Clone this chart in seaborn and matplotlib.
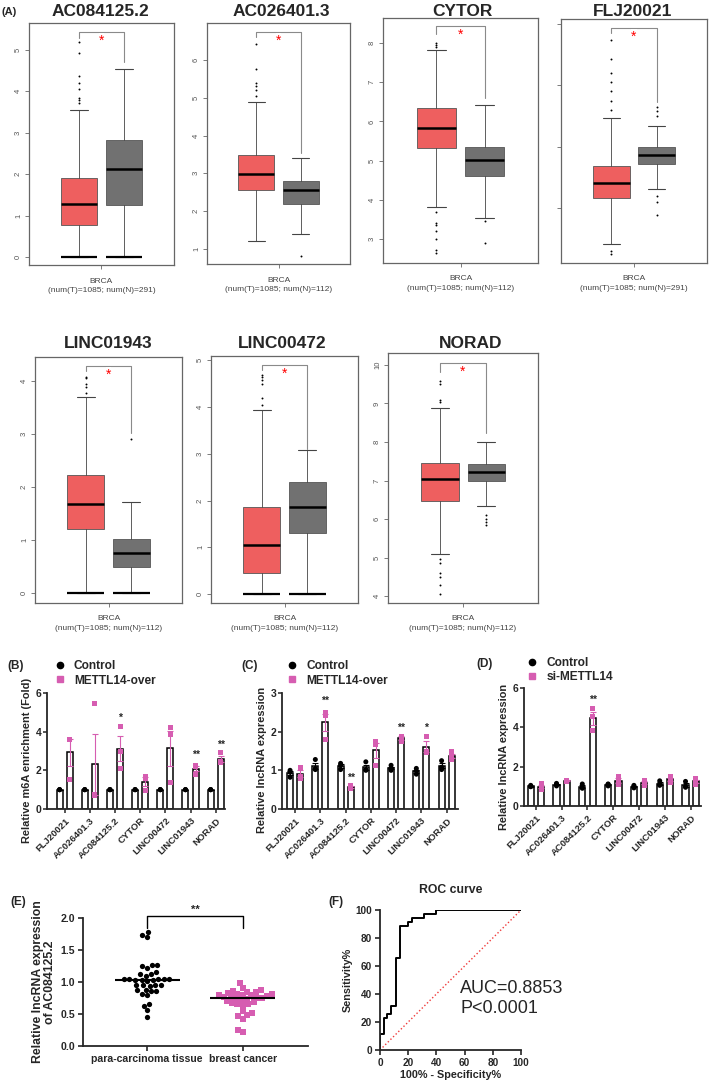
import numpy as np
import pandas as pd
import matplotlib
matplotlib.use("Agg")
import matplotlib.pyplot as plt
import seaborn as sns
from matplotlib.lines import Line2D

sns.set_style("ticks")
plt.rcParams["font.family"] = ["Liberation Sans", "DejaVu Sans"]

# ---------------- data: (A) GEPIA box plots ----------------
genes_a = ["AC084125.2", "AC026401.3", "CYTOR", "FLJ20021", "LINC01943", "LINC00472", "NORAD"]
n_normal = [291, 112, 112, 291, 112, 112, 112]
yticks_a = [[0, 1, 2, 3, 4, 5], [1, 2, 3, 4, 5, 6], [3, 4, 5, 6, 7, 8], [3, 4, 5, 6],
            [0, 1, 2, 3, 4], [0, 1, 2, 3, 4, 5], [4, 5, 6, 7, 8, 9, 10]]
show_ticklabels = [True, True, True, False, True, True, True]

tum_q1 = [0.78, 2.55, 5.33, 3.16, 1.20, 0.46, 6.48]
tum_med = [1.28, 2.98, 5.83, 3.41, 1.67, 1.04, 7.04]
tum_q3 = [1.90, 3.48, 6.35, 3.68, 2.22, 1.87, 7.45]
tum_lo = [0.0, 1.20, 3.83, 2.41, 0.0, 0.0, 5.10]
tum_hi = [3.55, 4.88, 7.82, 4.46, 3.70, 3.93, 8.88]
tum_out = [[5.18, 4.92, 4.38, 4.20, 4.05, 3.85, 3.80, 3.72],
           [6.42, 5.75, 5.40, 5.30, 5.20, 5.05],
           [8.00, 7.95, 7.90, 3.70, 3.40, 3.35, 3.20, 3.00, 2.72, 2.65],
           [5.74, 5.43, 5.20, 5.05, 4.90, 4.75, 4.60, 2.30, 2.24],
           [4.08, 4.05, 3.95, 3.88, 3.78],
           [4.68, 4.65, 4.58, 4.50, 4.20, 4.05],
           [9.58, 9.50, 9.10, 9.05, 4.95, 4.85, 4.60, 4.50, 4.30, 4.05]]

nor_q1 = [1.25, 2.20, 4.62, 3.72, 0.49, 1.31, 6.98]
nor_med = [2.12, 2.57, 5.03, 3.86, 0.75, 1.86, 7.22]
nor_q3 = [2.82, 2.80, 5.34, 4.00, 1.02, 2.40, 7.43]
nor_lo = [0.0, 1.40, 3.55, 3.31, 0.0, 0.0, 6.35]
nor_hi = [4.53, 3.40, 6.42, 4.33, 1.71, 3.07, 8.00]
nor_out = [[], [0.82], [3.45, 2.90], [4.64, 4.58, 4.50, 3.20, 3.10, 2.89], [2.90], [], [6.10, 6.00, 5.92, 5.85]]

zero_pile = [(True, True), (False, False), (False, False), (False, False),
             (True, True), (True, True), (False, False)]
# significance bracket: (top, left leg end, right leg end)
bracket_a = [(5.43, 5.30, 4.70), (6.74, 6.60, 3.54), (8.43, 8.23, 6.60), (5.93, 5.85, 4.73),
             (4.28, 4.19, 3.02), (4.89, 4.79, 3.10), (10.05, 9.82, 8.23)]

# ---------------- data: (B)(C)(D) bar charts ----------------
genes_bcd = ["FLJ20021", "AC026401.3", "AC084125.2", "CYTOR", "LINC00472", "LINC01943", "NORAD"]

b_ctrl = [[1.00, 1.00, 1.00], [1.00, 1.00, 1.00], [1.00, 1.00, 1.00], [1.00, 1.00, 1.00],
          [1.00, 1.00, 1.00], [1.00, 1.00, 1.00], [1.00, 1.00, 1.00]]
b_treat = [[3.62, 3.60, 1.55], [5.45, 0.72, 0.75], [4.28, 3.00, 2.10], [1.68, 1.60, 0.98],
           [4.22, 3.85, 1.35], [2.25, 2.20, 1.80], [2.92, 2.48, 2.40]]
b_stars = [(2, "*", 4.45), (5, "**", 2.55), (6, "**", 3.05)]

c_ctrl = [[1.00, 0.95, 0.82], [1.28, 1.05, 1.02], [1.18, 1.12, 1.02], [1.22, 1.02, 1.00],
          [1.13, 1.05, 1.00], [1.05, 0.98, 0.90], [1.25, 1.08, 1.02]]
c_treat = [[1.08, 0.85, 0.80], [2.50, 2.42, 1.80], [0.60, 0.57, 0.52], [1.75, 1.68, 1.12],
           [1.88, 1.87, 1.74], [1.88, 1.50, 1.45], [1.48, 1.35, 1.28]]
c_stars = [(1, "**", 2.68), (2, "**", 0.68), (4, "**", 1.98), (5, "*", 1.97)]

d_ctrl = [[1.05, 1.00, 0.98], [1.15, 1.10, 1.02], [1.12, 0.95, 0.90], [1.12, 1.10, 1.02],
          [1.05, 1.00, 0.92], [1.28, 1.10, 1.05], [1.25, 1.00, 0.95]]
d_treat = [[1.12, 1.00, 0.85], [1.32, 1.28, 1.25], [4.95, 4.55, 3.85], [1.48, 1.30, 1.10],
           [1.30, 1.20, 1.05], [1.48, 1.40, 1.20], [1.38, 1.30, 1.10]]
d_stars = [(2, "**", 5.15)]

# ---------------- data: (E) scatter, (F) ROC ----------------
tissues = ["para-carcinoma tissue", "breast cancer"]
para_vals = [1.78, 1.73, 1.70, 1.27, 1.27, 1.25, 1.22, 1.16, 1.12, 1.12, 1.10, 1.05, 1.05, 1.05,
             1.04, 1.04, 1.03, 1.03, 1.03, 1.02, 0.96, 0.95, 0.95, 0.95, 0.94, 0.88, 0.87, 0.86,
             0.86, 0.82, 0.80, 0.66, 0.63, 0.56, 0.45]
cancer_vals = [0.98, 0.91, 0.87, 0.86, 0.85, 0.84, 0.83, 0.82, 0.81, 0.80, 0.80, 0.79, 0.78,
               0.77, 0.76, 0.75, 0.75, 0.74, 0.73, 0.72, 0.70, 0.68, 0.67, 0.66, 0.65, 0.64,
               0.55, 0.52, 0.48, 0.47, 0.42, 0.25, 0.22]

roc_fpr = [0, 0, 3.0, 5.2, 7.8, 11.1, 14.2, 19.7, 22.5, 31.5, 39.8, 100]
roc_tpr = [0, 11.4, 23.0, 25.7, 31.7, 66.0, 88.8, 91.7, 94.3, 97.1, 100, 100]

# ---------------- layout ----------------
W, H = 709, 1089
RED = "#EE5F5F"
GREY = "#717171"
PINK = "#D65DB1"

fig = plt.figure(figsize=(W / 100, H / 100), dpi=100, facecolor="white")


def rect(l, t, r, b):
    return [l / W, 1 - b / H, (r - l) / W, (b - t) / H]


a_rects = [(29, 23, 174, 265), (207, 23, 350, 264), (383, 18, 538, 263), (561, 19, 707, 263),
           (35, 357, 182, 603), (211, 356, 358, 603), (388, 353, 538, 603)]
a_title_xy = [(100, 11), (281, 11), (462, 11), (633, 11), (108, 344), (282, 344), (471, 344)]
a_ylims = [(-0.19, 5.65), (0.6, 6.98), (2.39, 8.64), (2.1, 6.08), (-0.19, 4.45), (-0.19, 5.09), (3.82, 10.31)]
box_pos = [0.345, 0.655]

for i, gene in enumerate(genes_a):
    ax = fig.add_axes(rect(*a_rects[i]))
    stats = [
        dict(q1=tum_q1[i], med=tum_med[i], q3=tum_q3[i], whislo=tum_lo[i], whishi=tum_hi[i], fliers=tum_out[i]),
        dict(q1=nor_q1[i], med=nor_med[i], q3=nor_q3[i], whislo=nor_lo[i], whishi=nor_hi[i], fliers=nor_out[i]),
    ]
    bp = ax.bxp(stats, positions=box_pos, widths=0.25, patch_artist=True, manage_ticks=False,
                capwidths=0.12,
                boxprops=dict(linewidth=0.6, edgecolor="#555555"),
                medianprops=dict(color="black", linewidth=1.8),
                whiskerprops=dict(color="#444444", linewidth=0.6),
                capprops=dict(color="#444444", linewidth=0.8),
                flierprops=dict(marker="o", markersize=1.4, markerfacecolor="black",
                                markeredgecolor="none"))
    for patch, col in zip(bp["boxes"], [RED, GREY]):
        patch.set_facecolor(col)
    for p, flag in zip(box_pos, zero_pile[i]):
        if flag:
            ax.hlines(0, p - 0.125, p + 0.125, color="black", linewidth=1.6)
    top, leg_l, leg_r = bracket_a[i]
    ax.plot([box_pos[0], box_pos[0], box_pos[1], box_pos[1]], [leg_l, top, top, leg_r],
            color="#8a8a8a", linewidth=0.8)
    span = a_ylims[i][1] - a_ylims[i][0]
    ax.text(0.5, top - 0.035 * span, "*", color="red", ha="center", va="center", fontsize=10,
            bbox=dict(facecolor="white", edgecolor="none", pad=0.2))
    ax.set_xlim(0, 1)
    ax.set_ylim(*a_ylims[i])
    ax.set_yticks(yticks_a[i])
    labels = [str(v) for v in yticks_a[i]] if show_ticklabels[i] else [""] * len(yticks_a[i])
    ax.set_yticklabels(labels, rotation=90, va="center")
    ax.set_xticks([0.5])
    ax.set_xticklabels([""])
    ax.tick_params(labelsize=5.5, labelcolor="#555555", color="#666666", length=3, width=0.6, pad=2)
    for s in ax.spines.values():
        s.set_color("#666666")
        s.set_linewidth(0.9)
    ax.set_xlabel(f"BRCA\n(num(T)=1085; num(N)={n_normal[i]})", fontsize=6, color="#444444",
                  labelpad=4, linespacing=1.45)
    tx, ty = a_title_xy[i]
    fig.text(tx / W, 1 - ty / H, gene, fontsize=12.5, fontweight="bold", ha="center", va="center")

fig.text(2 / W, 1 - 12 / H, "(A)", fontsize=8, fontweight="bold", va="center")


def bar_panel(ax, ctrl, treat, groups, ylim, yticks, ylabel, stars, xlim, leg_xy):
    rows = []
    for g, vals in zip(genes_bcd, ctrl):
        rows += [(g, groups[0], v) for v in vals]
    for g, vals in zip(genes_bcd, treat):
        rows += [(g, groups[1], v) for v in vals]
    df = pd.DataFrame(rows, columns=["gene", "group", "value"])
    sns.barplot(data=df, x="gene", y="value", hue="group", order=genes_bcd, hue_order=groups,
                palette={groups[0]: "white", groups[1]: "white"}, edgecolor="black",
                linewidth=1.1, width=0.8, gap=0.4, errorbar=None, legend=False, ax=ax)
    x = np.arange(len(genes_bcd))
    for k, (grp, vals, col, mk) in enumerate(zip(groups, [ctrl, treat], ["black", PINK], ["o", "s"])):
        arr = np.array(vals)
        mean = arr.mean(axis=1)
        sem = arr.std(axis=1, ddof=1) / np.sqrt(arr.shape[1])
        ax.errorbar(x - 0.2 + 0.4 * k, mean, yerr=sem, fmt="none", ecolor=col, elinewidth=0.8,
                    capsize=2, capthick=0.8, zorder=4)
        sns.stripplot(data=df[df["group"] == grp], x="gene", y="value", hue="group",
                      order=genes_bcd, hue_order=groups, dodge=True, jitter=False,
                      palette={groups[0]: col, groups[1]: col}, marker=mk, size=3.6,
                      linewidth=0, legend=False, zorder=3, ax=ax)
    for idx, txt, y in stars:
        ax.text(idx + 0.2, y, txt, ha="center", va="bottom", fontsize=7.5, fontweight="bold")
    ax.set_xlim(*xlim)
    ax.set_ylim(*ylim)
    ax.set_yticks(yticks)
    ax.set_xticks(x)
    ax.set_xticklabels(genes_bcd, rotation=45, ha="right", rotation_mode="anchor",
                       fontweight="bold", fontsize=6.8)
    for lab in ax.get_yticklabels():
        lab.set_fontweight("bold")
    ax.tick_params(axis="y", labelsize=7.5, width=1.1, length=3, pad=1)
    ax.tick_params(axis="x", width=1.1, length=3, pad=2)
    ax.set_xlabel("")
    ax.set_ylabel(ylabel, fontsize=7.9, fontweight="bold", labelpad=1)
    ax.yaxis.set_label_coords(-0.085, 0.42)
    sns.despine(ax=ax)
    for s in ["left", "bottom"]:
        ax.spines[s].set_linewidth(1.3)
    handles = [Line2D([], [], marker="o", color="black", linestyle="", markersize=4.5),
               Line2D([], [], marker="s", color=PINK, linestyle="", markersize=4.5)]
    ax.legend(handles, groups, loc="lower left", bbox_to_anchor=leg_xy, frameon=False,
              prop={"weight": "bold", "size": 8.6}, handletextpad=0.6, labelspacing=0.2,
              borderpad=0, borderaxespad=0, handlelength=1.2)


ax_b = fig.add_axes(rect(47, 693, 225, 809))
bar_panel(ax_b, b_ctrl, b_treat, ["Control", "METTL14-over"], (0, 6), [0, 2, 4, 6],
          "Relative m6A enrichment (Fold)", b_stars, (-0.7, 6.37), (0.03, 1.055))
ax_c = fig.add_axes(rect(282, 693, 458, 809))
bar_panel(ax_c, c_ctrl, c_treat, ["Control", "METTL14-over"], (0, 3), [0, 1, 2, 3],
          "Relative lncRNA expression", c_stars, (-0.52, 6.45), (0.015, 1.055))
ax_d = fig.add_axes(rect(524, 688, 701, 806))
bar_panel(ax_d, d_ctrl, d_treat, ["Control", "si-METTL14"], (0, 6), [0, 2, 4, 6],
          "Relative lncRNA expression", d_stars, (-0.46, 6.4), (0.005, 1.04))

fig.text(7 / W, 1 - 666 / H, "(B)", fontsize=8.5, fontweight="bold", va="center")
fig.text(241 / W, 1 - 666 / H, "(C)", fontsize=8.5, fontweight="bold", va="center")
fig.text(476 / W, 1 - 664 / H, "(D)", fontsize=8.5, fontweight="bold", va="center")

# ---------------- (E) ----------------
ax_e = fig.add_axes(rect(83, 918, 308, 1046))
df_e = pd.DataFrame({"tissue": [tissues[0]] * len(para_vals) + [tissues[1]] * len(cancer_vals),
                     "value": para_vals + cancer_vals})
for t, col, mk in zip(tissues, ["black", PINK], ["o", "s"]):
    sns.swarmplot(data=df_e[df_e["tissue"] == t], x="tissue", y="value", order=tissues,
                  color=col, marker=mk, size=3.8, linewidth=0, ax=ax_e)
for i, vals in enumerate([para_vals, cancer_vals]):
    ax_e.hlines(np.median(vals), i - 0.34, i + 0.34, color="black", linewidth=1.5, zorder=5)
ax_e.plot([0, 0, 1, 1], [1.84, 2.03, 2.03, 1.84], color="black", linewidth=1, clip_on=False)
ax_e.text(0.5, 2.05, "**", ha="center", va="bottom", fontsize=8, fontweight="bold")
ax_e.set_xlim(-0.67, 1.68)
ax_e.set_ylim(0, 2)
ax_e.set_yticks([0, 0.5, 1.0, 1.5, 2.0])
ax_e.set_yticklabels(["0.0", "0.5", "1.0", "1.5", "2.0"], fontweight="bold", fontsize=7.6)
ax_e.set_xticks([0, 1])
ax_e.set_xticklabels(tissues, fontweight="bold", fontsize=7.6)
ax_e.tick_params(width=1.2, length=3.5, pad=2)
ax_e.set_xlabel("")
ax_e.set_ylabel("Relative lncRNA expression\nof AC084125.2", fontsize=8.8, fontweight="bold",
                labelpad=3, linespacing=1.1)
sns.despine(ax=ax_e)
for s in ["left", "bottom"]:
    ax_e.spines[s].set_linewidth(1.3)
fig.text(10 / W, 1 - 902 / H, "(E)", fontsize=8.5, fontweight="bold", va="center")

# ---------------- (F) ----------------
ax_f = fig.add_axes(rect(380, 910, 521, 1050))
sns.lineplot(x=roc_fpr, y=roc_tpr, drawstyle="steps-post", estimator=None, sort=False,
             color="black", linewidth=1.4, ax=ax_f)
ax_f.plot([0, 100], [0, 100], color="#F03A3A", linestyle=":", linewidth=1)
ax_f.set_xlim(0, 100)
ax_f.set_ylim(0, 100)
ticks_f = [0, 20, 40, 60, 80, 100]
ax_f.set_xticks(ticks_f)
ax_f.set_yticks(ticks_f)
ax_f.set_xticklabels([str(v) for v in ticks_f], fontweight="bold", fontsize=7.2)
ax_f.set_yticklabels([str(v) for v in ticks_f], fontweight="bold", fontsize=7.2)
ax_f.tick_params(width=1.2, length=3.5, pad=2)
ax_f.set_xlabel("100% - Specificity%", fontsize=7.8, fontweight="bold", labelpad=2)
ax_f.set_ylabel("Sensitivity%", fontsize=7.8, fontweight="bold", labelpad=2)
ax_f.set_title("ROC curve", fontsize=8.8, fontweight="bold", pad=12)
ax_f.text(57, 37, "AUC=0.8853\nP<0.0001", fontsize=13, va="center", ha="left", linespacing=1.25)
sns.despine(ax=ax_f)
for s in ["left", "bottom"]:
    ax_f.spines[s].set_linewidth(1.3)
fig.text(328 / W, 1 - 902 / H, "(F)", fontsize=8.5, fontweight="bold", va="center")

fig.savefig("out.png", dpi=100, facecolor="white")
